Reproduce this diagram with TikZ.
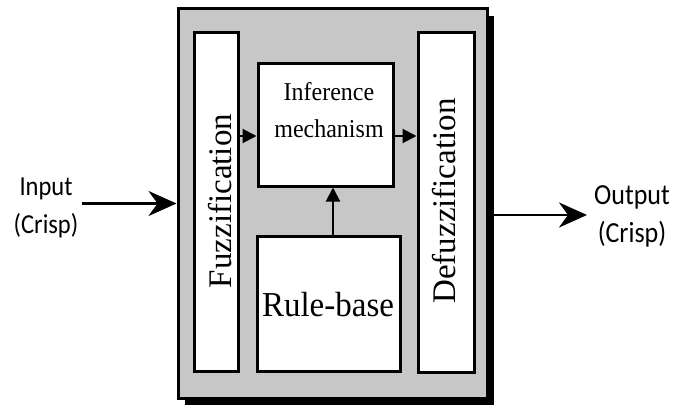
\documentclass[tikz,border=0pt]{standalone}
\usepackage{fontspec}
\usepackage{graphicx}
\setmainfont{Liberation Serif}
\newfontfamily\calfont{Carlito}
\usetikzlibrary{arrows.meta,shadows}
\definecolor{boxgray}{RGB}{199,199,199}
\newcommand{\vstretch}[2]{\scalebox{1}[#1]{#2}}
\begin{document}
\begin{tikzpicture}[x=1pt,y=-1pt,
  blockbox/.style={draw=black,line width=3pt,fill=white,rectangle,inner sep=0pt},
  bigarrow/.style={line width=2.5pt,-{Stealth[length=28pt,width=25pt,inset=9pt]}},
  smallarrow/.style={line width=2pt,-{Triangle[length=14pt,width=14pt]}},
  plaintext/.style={inner sep=0pt}]
\useasboundingbox (0,0) rectangle (677,409);
% outer gray box with shadow
\node[draw=black,line width=3pt,fill=boxgray,minimum width=309pt,minimum height=389pt,inner sep=0pt,
  drop shadow={shadow xshift=7pt,shadow yshift=-7pt,fill=black,opacity=1}] (outer) at (332.5,203.5) {};
% blocks
\node[blockbox,minimum width=44pt,minimum height=338pt] (fuzz) at (216,202) {};
\node[blockbox,minimum width=135pt,minimum height=122pt] (inf) at (325.5,125) {};
\node[blockbox,minimum width=143pt,minimum height=135pt] (rule) at (328.5,303.5) {};
\node[blockbox,minimum width=56pt,minimum height=339pt] (defuzz) at (446,202.5) {};
% texts
\node[plaintext,rotate=90,font=\fontsize{33}{36}\selectfont] (fuzztxt) at (220,201) {Fuzzification};
\node[plaintext,rotate=90,font=\fontsize{33}{36}\selectfont] (defuzztxt) at (444,201) {Defuzzification};
\node[plaintext] (inftxt) at (329,112) {\vstretch{1.07}{\fontsize{24}{34.5}\selectfont\begin{tabular}{@{}c@{}}Inference\\mechanism\end{tabular}}};
\node[plaintext] (ruletxt) at (328,305) {\vstretch{1.06}{\fontsize{33}{36}\selectfont Rule-base}};
\node[plaintext] (intxt) at (46,207) {\vstretch{1.12}{\calfont\fontsize{24.5}{34}\selectfont\begin{tabular}{@{}c@{}}Input\\(Crisp)\end{tabular}}};
\node[plaintext] (outtxt) at (632,216) {\vstretch{1.12}{\calfont\fontsize{26}{34}\selectfont\begin{tabular}{@{}c@{}}Output\\(Crisp)\end{tabular}}};
% connector helper coordinates
\coordinate (instart) at (82,203.5);
\coordinate (outrow) at (587,215);
\coordinate (arrowrow) at (300,136);
\coordinate (ruleline) at (333,0);
% connectors
\draw[bigarrow] (instart) -- (outer.west);
\draw[bigarrow] (outer.east |- outrow) -- (outrow);
\draw[smallarrow] (fuzz.east |- arrowrow) -- (inf.west |- arrowrow);
\draw[smallarrow] (inf.east |- arrowrow) -- (defuzz.west |- arrowrow);
\draw[smallarrow] (rule.north -| ruleline) -- (inf.south -| ruleline);
\end{tikzpicture}
\end{document}
